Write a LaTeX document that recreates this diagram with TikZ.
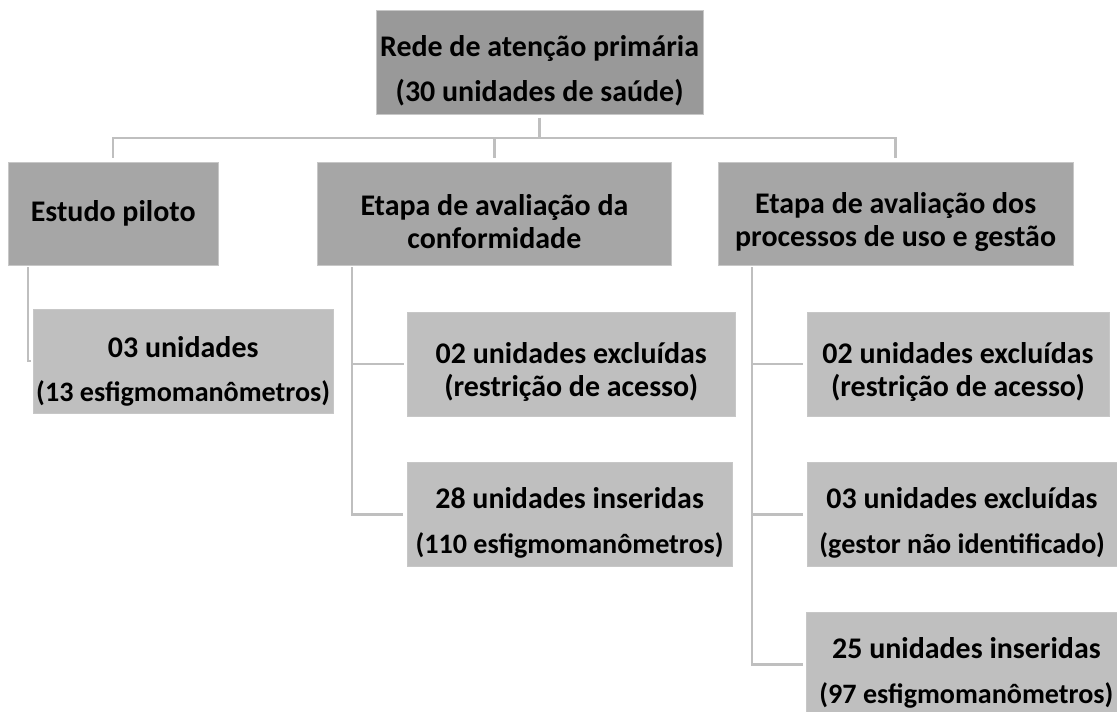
\documentclass[tikz,border=0pt]{standalone}
\usepackage{fontspec}
\setmainfont{Carlito}
\usepackage{tikz}
\usetikzlibrary{positioning, calc}
\newcommand{\subline}{\fontsize{20}{23.5}\selectfont}
\newcommand{\topgap}{\rule{0pt}{27pt}}

\tikzset{
  box/.style={rectangle, draw=black!22, line width=0.5pt, align=center, inner sep=2pt,
    minimum height=2.58cm, font=\fontsize{21.3}{23.5}\selectfont\bfseries},
  topbox/.style={box, fill=black!40},
  stagebox/.style={box, fill=black!35},
  unitbox/.style={box, fill=black!25, minimum height=2.6cm},
  link/.style={draw=black!25, line width=1.7pt},
}

\begin{document}
\begin{tikzpicture}
    \useasboundingbox (0,0) rectangle (27.925,-17.775);

    % === RAIZ ===
    \node[topbox, minimum width=8.18cm] (rede) at (13.49,-1.56) {\topgap Rede de atenção primária\\[9pt](30 unidades de saúde)};

    % === ETAPAS ===
    \node[stagebox, minimum width=5.25cm] (piloto) at (2.83,-5.34) {Estudo piloto};
    \node[stagebox, minimum width=8.83cm] (conf) at (12.36,-5.34) {\topgap Etapa de avaliação da\\conformidade};
    \node[stagebox, minimum width=8.88cm] (proc) at (22.39,-5.34) {\topgap Etapa de avaliação dos\\processos de uso e gestão};

    % === UNIDADES ===
    \node[unitbox, minimum width=7.45cm] (pil03) at (4.58,-9.03) {\rule{0pt}{29pt}03 unidades\\[8pt]\subline (13 esfigmomanômetros)};

    \node[unitbox, minimum width=8.2cm] (conf02) at (14.28,-9.10) {\topgap 02 unidades excluídas\\(restrição de acesso)};
    \node[unitbox, minimum width=8.13cm] (conf28) at (14.24,-12.86) {\topgap 28 unidades inseridas\\[8pt]\subline (110 esfigmomanômetros)};

    \node[unitbox, minimum width=7.55cm] (proc02) at (23.95,-9.10) {\topgap 02 unidades excluídas\\(restrição de acesso)};
    \node[unitbox, minimum width=7.75cm] (proc03) at (24.05,-12.86) {\topgap 03 unidades excluídas\\[8pt]\subline (gestor não identificado)};
    \node[unitbox, minimum width=7.98cm] (proc25) at (24.16,-16.61) {\topgap 25 unidades inseridas\\[8pt]\subline (97 esfigmomanômetros)};

    % === LIGAÇÕES ===
    \coordinate (bus) at (13.49,-3.45);
    \draw[link, shorten <=0.8mm] (rede.south) -- (bus);
    \draw[link, shorten >=1mm] (bus) -| (piloto.north);
    \draw[link, shorten >=1mm] (bus) -| (conf.north);
    \draw[link, shorten >=1mm] (bus) -| (proc.north);

    \coordinate (pilTrunk) at (0.70,-6.68);
    \coordinate (confTrunk) at (8.80,-6.68);
    \coordinate (procTrunk) at (18.80,-6.68);

    \draw[link, shorten >=0.5mm] (pilTrunk) |- (pil03.west);
    \draw[link, shorten >=0.8mm] (confTrunk) |- (conf02.west);
    \draw[link, shorten >=0.8mm] (confTrunk) |- (conf28.west);
    \draw[link, shorten >=0.8mm] (procTrunk) |- (proc02.west);
    \draw[link, shorten >=0.8mm] (procTrunk) |- (proc03.west);
    \draw[link, shorten >=0.8mm] (procTrunk) |- (proc25.west);

\end{tikzpicture}
\end{document}
